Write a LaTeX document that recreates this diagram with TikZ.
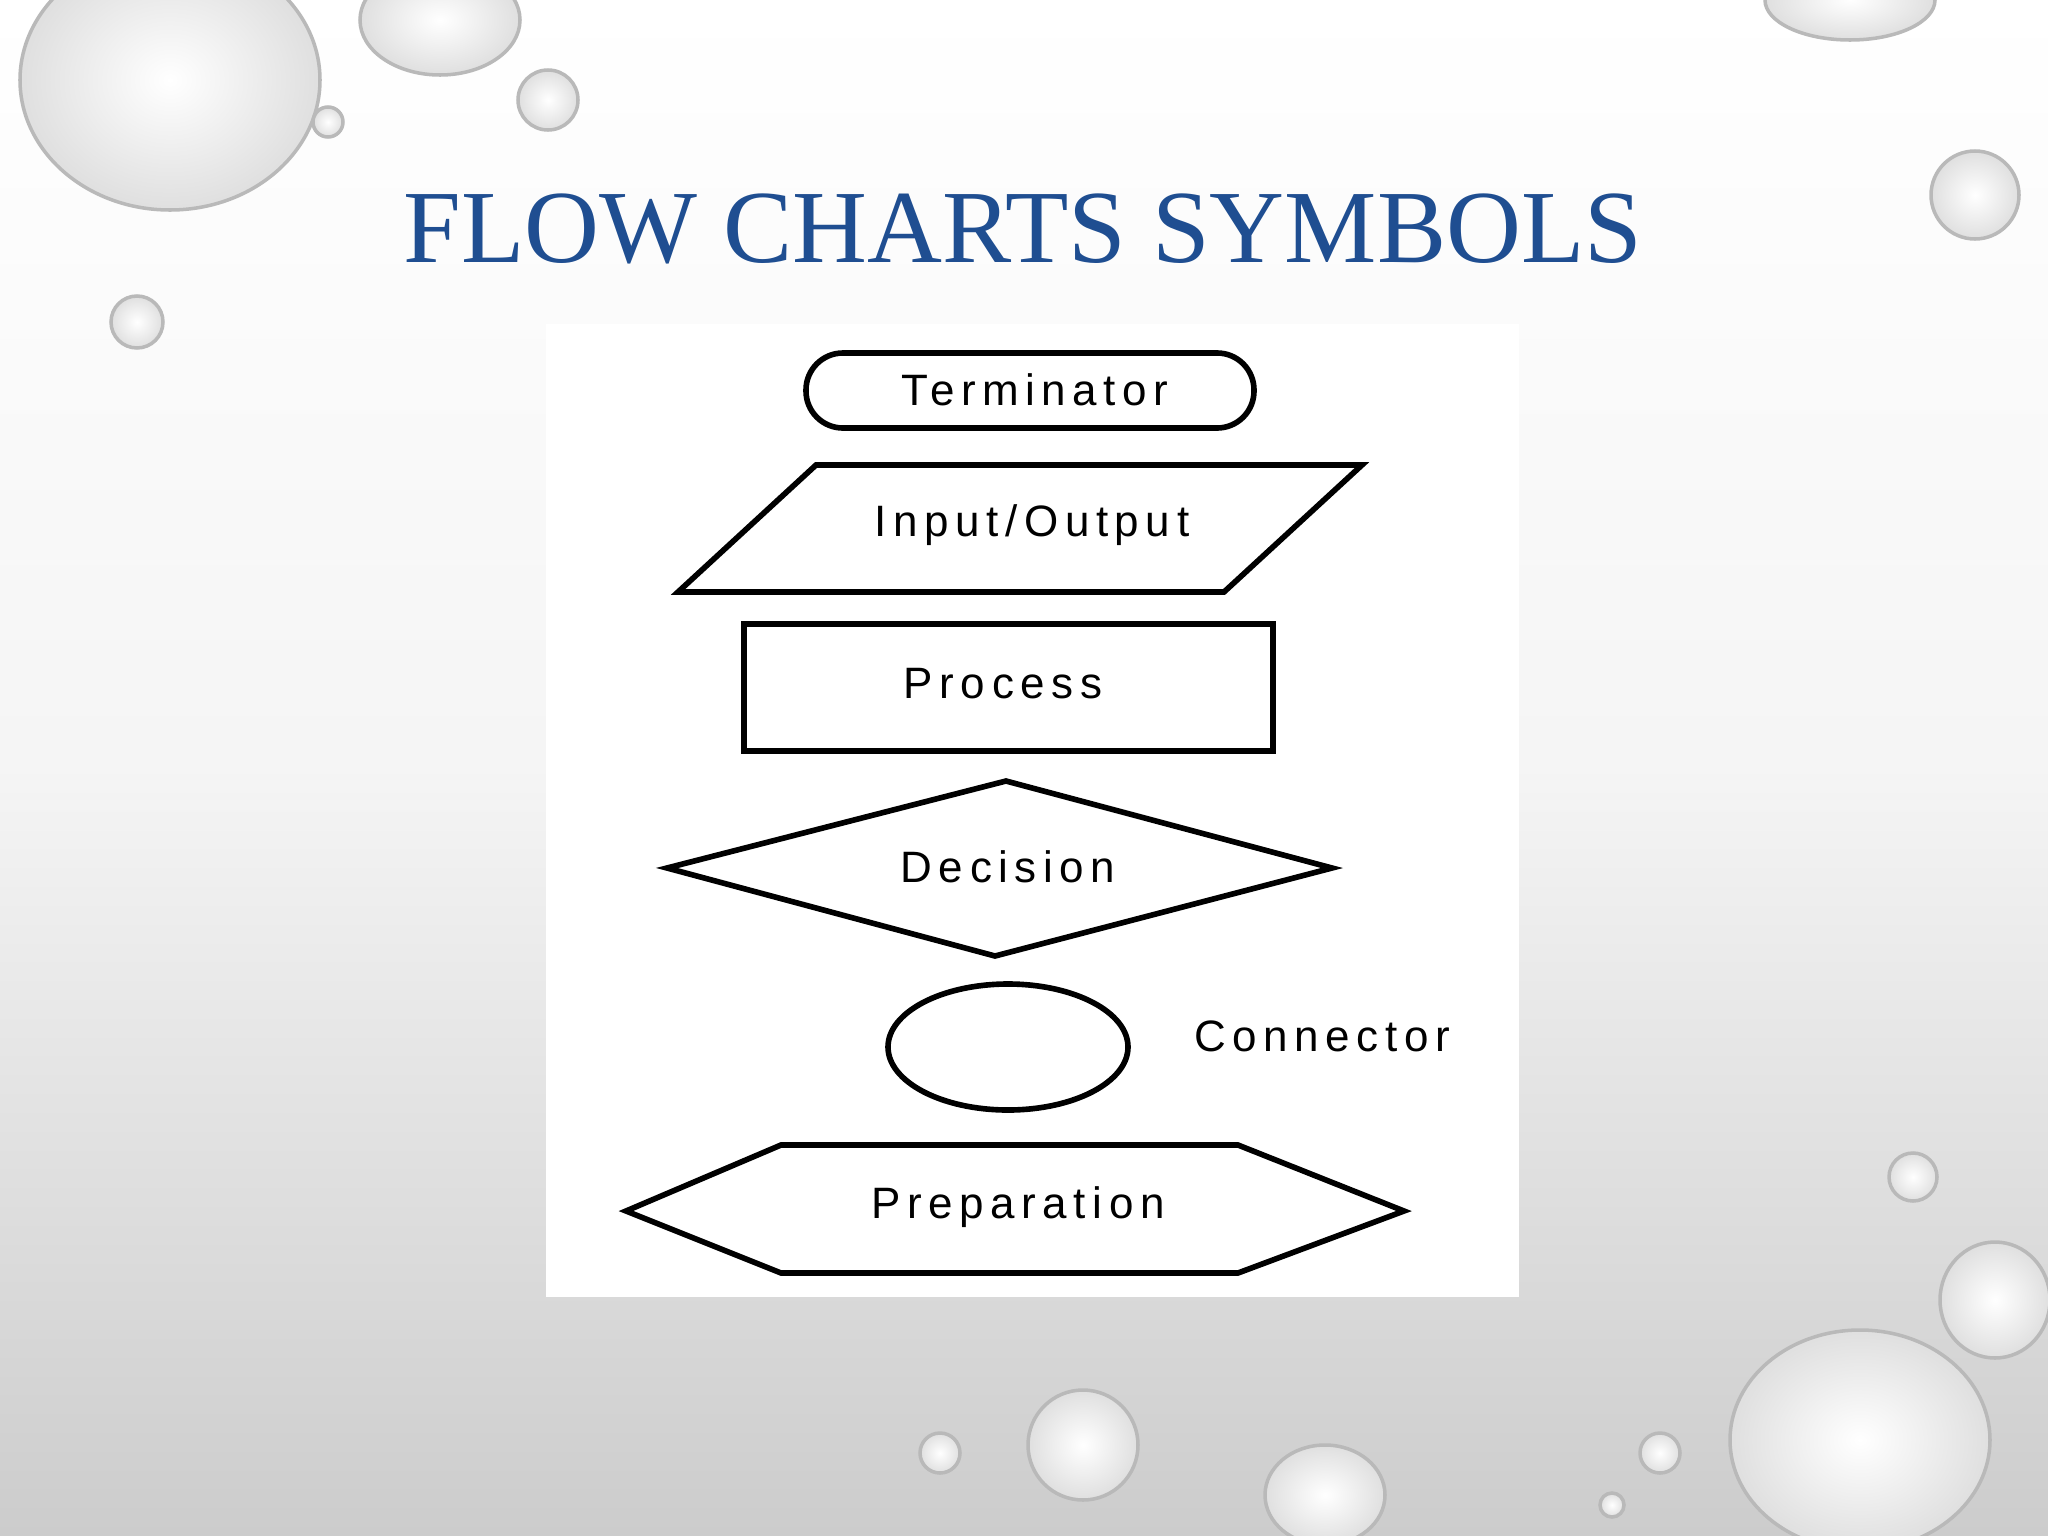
\documentclass[tikz,border=0pt]{standalone}
\usepackage{fontspec}
\setmainfont{Liberation Serif}
\newfontfamily\symfont[LetterSpace=15]{Liberation Sans}
\usetikzlibrary{shapes.geometric}
\definecolor{titleblue}{RGB}{31,78,145}
\tikzset{sym/.style={draw=black,line width=1.6pt,fill=white},
 lbl/.style={font=\symfont\fontsize{12.5}{14}\selectfont},
 drop/.style={draw=gray!55,line width=1pt,inner color=white,outer color=gray!25}}
\begin{document}
\begin{tikzpicture}[x=0.01cm,y=-0.01cm]
\shade[top color=white,bottom color=gray!40,middle color=gray!8] (0,0) rectangle (2048,1536);
\useasboundingbox (0,0) rectangle (2048,1536);
% droplets
\shade[drop] (170,80) ellipse (150 and 130);
\shade[drop] (440,20) ellipse (80 and 55);
\shade[drop] (548,100) circle (30);
\shade[drop] (328,122) circle (15);
\shade[drop] (137,322) circle (26);
\shade[drop] (1850,0) ellipse (85 and 40);
\shade[drop] (1975,195) circle (44);
\shade[drop] (1913,1177) circle (24);
\shade[drop] (1995,1300) ellipse (55 and 58);
\shade[drop] (1860,1440) ellipse (130 and 110);
\shade[drop] (1083,1445) ellipse (55 and 55);
\shade[drop] (1325,1495) ellipse (60 and 50);
\shade[drop] (940,1453) circle (20);
\shade[drop] (1660,1453) circle (20);
\shade[drop] (1612,1505) circle (12);
% title
\node[font=\fontsize{29.5}{34}\selectfont,text=titleblue] (title) at (1023,229) {FLOW CHARTS SYMBOLS};
% panel
\fill[white] (546,324) rectangle (1519,1297);
% terminator
\draw[sym,rounded corners=10.5pt] (806,353) rectangle (1254,428);
\node[lbl] (term) at (1035,390) {Terminator};
% io
\draw[sym] (678,592) -- (816,465) -- (1362,465) -- (1224,592) -- cycle;
\node[lbl] (io) at (1032,525) {Input/Output};
% process
\draw[sym] (744,624) rectangle (1273,751);
\node[lbl] (proc) at (1003,684) {Process};
% decision
\draw[sym] (667,868) -- (1006,781) -- (1332,868) -- (995,956) -- cycle;
\node[lbl] (dec) at (1008,867) {Decision};
% connector
\draw[sym] (1008,1047) ellipse (120 and 63);
\node[lbl] (conn) at (1322,1036) {Connector};
% preparation
\draw[sym] (626,1211) -- (781,1145) -- (1238,1145) -- (1404,1211) -- (1238,1273) -- (781,1273) -- cycle;
\node[lbl] (prep) at (1018,1207) {Preparation};
\end{tikzpicture}
\end{document}
